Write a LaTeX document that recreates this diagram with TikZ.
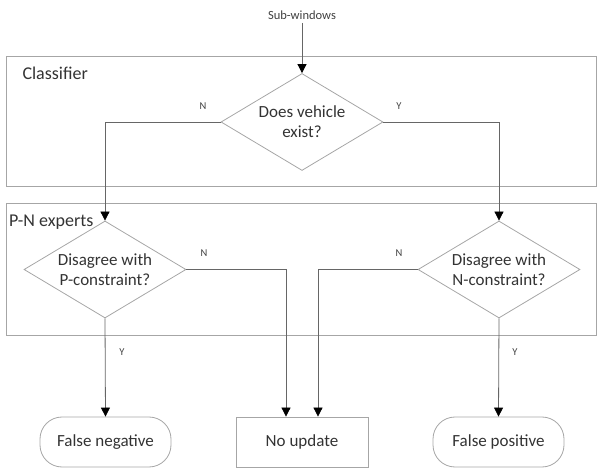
\documentclass[tikz,border=0pt]{standalone}
\usepackage{fontspec}
\setmainfont{Carlito}
\usetikzlibrary{shapes.geometric,arrows.meta}
\begin{document}
\begin{tikzpicture}[x=1pt,y=-1pt,
  frame/.style={draw=black!35,line width=0.8pt},
  decision/.style={draw=black!35,line width=0.8pt,diamond,aspect=1.67,minimum width=162pt,minimum height=97pt,inner sep=0pt,align=center,font=\fontsize{17}{20}\selectfont,text=black!80},
  terminal/.style={draw=black!35,line width=0.8pt,rounded corners=22pt,minimum width=131pt,minimum height=50pt,inner sep=0pt,font=\fontsize{17}{20}\selectfont,text=black!80},
  procbox/.style={draw=black!35,line width=0.8pt,minimum width=132pt,minimum height=50pt,inner sep=0pt,font=\fontsize{17}{20}\selectfont,text=black!80},
  conn/.style={draw=black!60,line width=0.8pt},
  arr/.style={conn,-{Triangle[width=9pt,length=9pt,color=black]}},
  lbl/.style={font=\fontsize{10.5}{12}\selectfont,text=black!75},
  title/.style={font=\fontsize{18}{20}\selectfont,text=black!80,anchor=west}
  ]
\useasboundingbox (0,0) rectangle (598,473);
% frames
\draw[frame] (6,56) rectangle (596,186);
\node[title] (tcls) at (19,73) {Classifier};
\draw[frame] (6,203) rectangle (596,335);
\node[title,inner sep=1pt] (tpn) at (8,222) {P-N experts};
% nodes
\node[lbl,font=\fontsize{12.5}{14}\selectfont] (sub) at (302,15) {Sub-windows};
\node[decision] (d1) at (302,122) {Does vehicle\\exist?};
\node[decision] (d2) at (105,269.5) {Disagree with\\P-constraint?};
\node[decision] (d3) at (499,269.5) {Disagree with\\N-constraint?};
\node[terminal] (fn) at (105.5,442) {False negative};
\node[procbox] (nu) at (302,442) {No update};
\node[terminal] (fp) at (498.5,442) {False positive};
% connectors
\draw[arr] (sub.south) -- (d1.north);
\draw[arr] (d1.west) -| (d2.north);
\draw[arr] (d1.east) -| (d3.north);
\draw[arr] (d2.south) -- (fn.north);
\draw[arr] (d3.south) -- (fp.north);
\draw[arr] (d2.east) -| ([xshift=-16pt]nu.north);
\draw[arr] (d3.west) -| ([xshift=16pt]nu.north);
% labels
\node[lbl] (n1) at (203,106) {N};
\node[lbl] (y1) at (399,106) {Y};
\node[lbl] (n2) at (204,253) {N};
\node[lbl] (n3) at (399,253) {N};
\node[lbl] (y2) at (122,352) {Y};
\node[lbl] (y3) at (515,352) {Y};
\end{tikzpicture}
\end{document}
